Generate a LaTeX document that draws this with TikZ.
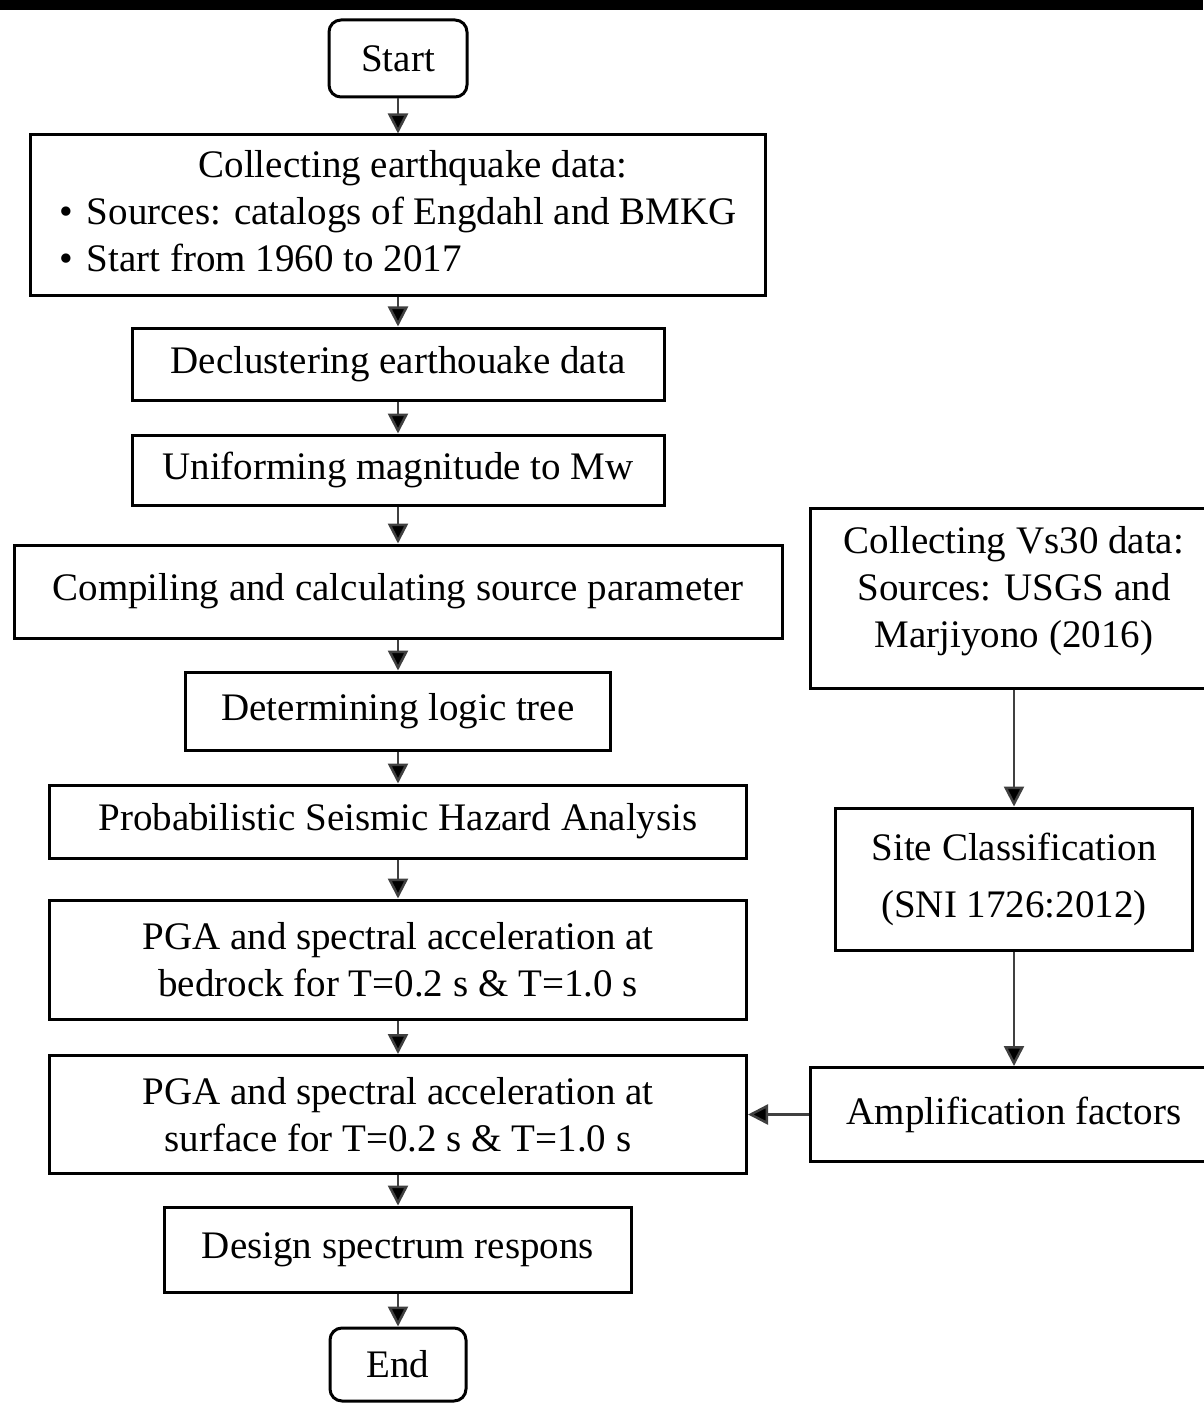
\documentclass[tikz,border=0pt]{standalone}
\usepackage{fontspec}
\setmainfont{Liberation Serif}
\usetikzlibrary{arrows.meta}
\tikzset{
  every picture/.style={line width=3pt},
  stepbox/.style 2 args={draw, rectangle, align=center, inner sep=0pt,
    minimum width=#1pt, minimum height=#2pt, font=\fontsize{39}{47}\selectfont},
  termbox/.style 2 args={stepbox={#1}{#2}, rounded corners=12pt},
  flow/.style={-{Triangle[length=20pt,width=20pt,fill=black]}, draw=black!75, line width=2.5pt},
}

\begin{document}
\begin{tikzpicture}[x=1pt, y=-1pt]
  \useasboundingbox (0,0) rectangle (1203,1404);
  \fill (0,0) rectangle (1203,10);
  % main chain
  \node[termbox={138}{77}] (start) at (398,58.5) {Start};
  \node[stepbox={735}{161}] (collect) at (398,215.5) {\begin{tabular}{@{}l@{}}
      \multicolumn{1}{c}{\hspace{30pt}Collecting earthquake data:}\\
      \textbullet\hspace{14pt}Sources: catalogs of Engdahl and BMKG\\
      \textbullet\hspace{14pt}Start from 1960 to 2017\end{tabular}};
  \node[stepbox={532}{72}] (declus) at (398,364) {Declustering earthouake data};
  \node[stepbox={532}{70}] (uniform) at (398,470) {Uniforming magnitude to Mw};
  \node[stepbox={768}{93}] (compile) at (398,591.5) {Compiling and calculating source parameter};
  \node[stepbox={425}{78}] (logic) at (398,711) {Determining logic tree};
  \node[stepbox={697}{73}] (psha) at (398,821.5) {Probabilistic Seismic Hazard Analysis};
  \node[stepbox={697}{119}] (pgarock) at (398,959.5) {PGA and spectral acceleration at\\bedrock for T=0.2 s \& T=1.0 s};
  \node[stepbox={697}{118}] (pgasurf) at (398,1114.5) {PGA and spectral acceleration at\\surface for T=0.2 s \& T=1.0 s};
  \node[stepbox={467}{85}] (design) at (398,1249.5) {Design spectrum respons};
  \node[termbox={136}{73}] (end) at (398,1364.5) {End};
  % site branch
  \node[stepbox={408}{180}] (vsdata) at (1014,598) {Collecting Vs30 data:\\Sources: USGS and\\Marjiyono (2016)\\[-25pt]};
  \node[stepbox={357}{142}] (site) at (1014,879) {Site Classification\\[10pt](SNI 1726:2012)};
  \node[stepbox={408}{94}] (amp) at (1014,1114.5) {Amplification factors};
  % arrows
  \draw[flow] (start) -- (collect);
  \draw[flow] (collect) -- (declus);
  \draw[flow] (declus) -- (uniform);
  \draw[flow] (uniform) -- (compile);
  \draw[flow] (compile) -- (logic);
  \draw[flow] (logic) -- (psha);
  \draw[flow] (psha) -- (pgarock);
  \draw[flow] (pgarock) -- (pgasurf);
  \draw[flow] (pgasurf) -- (design);
  \draw[flow] (design) -- (end);
  \draw[flow] (vsdata) -- (site);
  \draw[flow] (site) -- (amp);
  \draw[flow] (amp) -- (pgasurf);
\end{tikzpicture}
\end{document}
